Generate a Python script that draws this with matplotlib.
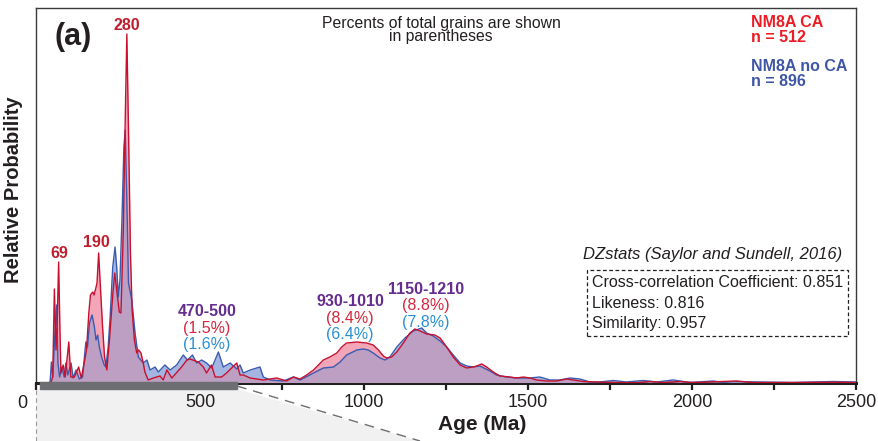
"""Detrital zircon age spectra: NM8A with and without chemical abrasion (panel a)."""

import matplotlib
matplotlib.use("Agg")
import matplotlib.pyplot as plt
import numpy as np
from matplotlib.lines import Line2D
from matplotlib.patches import Polygon, Rectangle
from matplotlib.transforms import Affine2D

plt.rcParams["font.family"] = ["Liberation Sans", "DejaVu Sans"]

W, H = 879, 441

# NM8A CA (red), relative probability in arbitrary units
red_age = [40, 46, 51, 56, 61, 64, 69, 73, 76, 83, 89, 100, 106, 117, 130, 138,
           147, 154, 161, 166, 173, 177, 181, 186, 191, 198, 203, 209, 216, 224,
           234, 240, 246, 254, 259, 266, 272, 277, 282, 288, 293, 300, 307, 313,
           320, 327, 332, 342, 358, 378, 388, 399, 414, 444, 460, 469, 495, 510,
           520, 535, 546, 566, 581, 612, 622, 632, 653, 693, 734, 764, 785, 805,
           825, 846, 861, 876, 896, 917, 932, 947, 978, 1008, 1028, 1044, 1059,
           1069, 1084, 1100, 1120, 1140, 1155, 1171, 1191, 1216, 1232, 1252,
           1272, 1293, 1313, 1333, 1343, 1359, 1374, 1394, 1414, 1445, 1465,
           1486, 1506, 1526, 1557, 1587, 1618, 1638, 1668, 1709, 1770, 1831,
           1872, 1912, 1963, 2004, 2136, 2186, 2308, 2430, 2500]
red_val = [0, 1, 6, 94, 33, 53, 121, 53, 10, 18, 6, 41, 6, 6, 16, 5,
           20, 33, 70, 88, 91, 88, 93, 100, 130, 86, 56, 26, 13, 43,
           88, 110, 93, 71, 70, 150, 263, 349, 253, 130, 73, 43, 30, 33,
           30, 20, 11, 3, 5, 7, 3, 13, 5, 16, 23, 24, 21, 16,
           10, 18, 6, 6, 10, 20, 8, 8, 5, 3, 5, 2, 6, 4,
           8, 13, 18, 23, 26, 30, 36, 40, 41, 40, 38, 33, 27,
           25, 26, 31, 40, 50, 54, 52, 49, 48, 45, 36,
           26, 18, 15, 16, 17, 19, 16, 11, 7, 6, 5,
           6, 5, 3, 2, 2, 4, 3, 1.5, 1, 0.5, 0.3,
           1.5, 0.5, 1.5, 0.5, 2, 0.5, 0.5, 0.8, 0.5]

# NM8A no CA (blue)
blue_age = [38, 43, 47, 51, 57, 63, 67, 72, 79, 86, 91, 97, 107, 113, 122, 132,
            142, 152, 157, 163, 171, 178, 183, 188, 193, 200, 208, 213, 220, 226,
            234, 241, 246, 251, 256, 262, 268, 272, 277, 282, 292, 302, 312, 327,
            338, 348, 363, 373, 393, 409, 429, 449, 462, 477, 490, 505, 520, 536,
            556, 571, 592, 612, 622, 632, 653, 683, 693, 714, 754, 785, 805, 846,
            876, 907, 927, 947, 978, 998, 1013, 1028, 1049, 1064, 1079, 1100,
            1125, 1150, 1176, 1191, 1211, 1232, 1252, 1272, 1293, 1313, 1333,
            1353, 1384, 1404, 1435, 1465, 1506, 1536, 1567, 1597, 1628, 1658,
            1689, 1719, 1760, 1800, 1851, 1892, 1943, 1993, 2065, 2095, 2126,
            2207, 2308, 2430, 2500]
blue_val = [0, 1, 21, 6, 46, 78, 20, 6, 16, 6, 20, 8, 20, 5, 13, 4,
            6, 41, 36, 60, 68, 56, 43, 48, 36, 26, 18, 16, 36, 66,
            116, 136, 116, 86, 103, 163, 236, 253, 183, 100, 83, 50, 26, 20,
            23, 13, 16, 11, 18, 13, 18, 28, 23, 28, 20, 23, 20, 15,
            31, 16, 20, 14, 18, 10, 13, 16, 6, 3, 2, 6, 3, 10,
            15, 16, 21, 28, 33, 34, 33, 30, 25, 23, 26, 36,
            45, 52, 55, 50, 47, 42, 36, 28, 20, 17, 16,
            17, 12, 8, 6, 5, 5, 6, 3, 3, 5, 4,
            1, 1, 2.5, 1, 2.5, 1, 3, 0.5, 2, 0.5, 1.5,
            1, 0.5, 1.5, 1]

xtick_vals = np.arange(0, 2501, 250)
xtick_labels = ["" if (v == 0 or v % 500) else str(v) for v in xtick_vals]
zoom_range = (12, 613)

RED_LINE = "#c8102e"
BLUE_LINE = "#3a5bb0"
RED_FILL = "#f4a6b9"
BLUE_FILL = "#a3b5e0"
OVERLAP = "#bd9fc3"
DARK = "#231f20"


def px(x, y):
    return x / W, 1 - y / H


fig = plt.figure(figsize=(W / 100, H / 100), dpi=100)
ax = fig.add_axes([36 / W, 58 / H, 820 / W, 375 / H])

blue_fill = ax.fill_between(blue_age, blue_val, color=BLUE_FILL, lw=0, zorder=1)
ax.fill_between(red_age, red_val, color=RED_FILL, lw=0, zorder=2)
overlap = ax.fill_between(red_age, red_val, color=OVERLAP, lw=0, zorder=3)
overlap.set_clip_path(blue_fill.get_paths()[0], ax.transData)
ax.plot(blue_age, blue_val, color=BLUE_LINE, lw=1.0, zorder=4)
ax.plot(red_age, red_val, color=RED_LINE, lw=1.0, zorder=5)

ax.set_xlim(0, 2500)
ax.set_ylim(0, 375)
ax.set_yticks([])
ax.set_xticks(xtick_vals)
ax.set_xticklabels(xtick_labels)
ax.tick_params(axis="x", direction="out", length=5, width=1.6, color=DARK,
               pad=3, labelsize=13, labelcolor=DARK)
for side in ["top", "left", "right"]:
    ax.spines[side].set_linewidth(1.0)
    ax.spines[side].set_color("#3a3a3a")
ax.spines["bottom"].set_linewidth(2.2)
ax.spines["bottom"].set_color(DARK)

# grey bar marking the zoomed interval, plus the zoom wedge below the axis
ax.add_patch(Rectangle((zoom_range[0], -6 / 375), zoom_range[1] - zoom_range[0],
                       7.5 / 375, transform=ax.get_xaxis_transform(),
                       color="#6d6e71", clip_on=False, zorder=6))
pix = Affine2D().scale(1 / W, -1 / H).translate(0, 1) + fig.transFigure
fig.patches.append(Polygon([[36, 389], [237, 389], [420, 441], [36, 441]],
                           closed=True, transform=pix, facecolor="#f1f1f2",
                           edgecolor="none", zorder=-1))
fig.lines.append(Line2D([237, 420], [386, 441], transform=pix, color="#6d6e71",
                        lw=1.0, ls=(0, (7, 5))))
fig.lines.append(Line2D([36, 36], [390, 441], transform=pix, color="#9a9a9a",
                        lw=0.8, ls=(0, (4, 3))))

fig.text(*px(22, 404), "0", fontsize=13, color=DARK, ha="center", va="center")
fig.text(*px(482, 425), "Age (Ma)", fontsize=15, fontweight="bold",
         color=DARK, ha="center", va="center")
fig.text(*px(14, 190), "Relative Probability", fontsize=14.5,
         fontweight="bold", color=DARK, rotation=90, ha="center", va="center")

fig.text(*px(73, 37), "(a)", fontsize=22, fontweight="bold", color=DARK,
         ha="center", va="center")
fig.text(*px(441, 30), "Percents of total grains are shown\nin parentheses",
         fontsize=11.3, color=DARK, ha="center", va="center", linespacing=0.9)

fig.text(*px(751, 30), "NM8A CA\nn = 512", fontsize=11.5, fontweight="bold",
         color="#ed1c24", ha="left", va="center", linespacing=0.95)
fig.text(*px(751, 74), "NM8A no CA\nn = 896", fontsize=11.5, fontweight="bold",
         color="#3f56a6", ha="left", va="center", linespacing=0.95)

# peak ages
PEAK = "#be1e2d"
fig.text(*px(127, 25), "280", fontsize=11.5, fontweight="bold", color=PEAK,
         ha="center", va="center")
fig.text(*px(59, 253), "69", fontsize=11.5, fontweight="bold", color=PEAK,
         ha="center", va="center")
fig.text(*px(96, 243), "190", fontsize=11.5, fontweight="bold", color=PEAK,
         ha="center", va="center")

# age groups with percentages
PURPLE = "#662d91"
RED_PCT = "#d7263d"
BLUE_PCT = "#2a8fd4"
groups = [("470-500", "(1.5%)", "(1.6%)", 207, 312),
          ("930-1010", "(8.4%)", "(6.4%)", 350, 302),
          ("1150-1210", "(8.8%)", "(7.8%)", 426, 289)]
for name, pct_ca, pct_noca, gx, gy in groups:
    fig.text(*px(gx, gy), name, fontsize=11.5, fontweight="bold",
             color=PURPLE, ha="center", va="center")
    fig.text(*px(gx, gy + 16.5), pct_ca, fontsize=11.5, color=RED_PCT,
             ha="center", va="center")
    fig.text(*px(gx, gy + 33), pct_noca, fontsize=11.5, color=BLUE_PCT,
             ha="center", va="center")

fig.text(*px(583, 255), "DZstats (Saylor and Sundell, 2016)", fontsize=12,
         fontstyle="italic", color=DARK, ha="left", va="center")
fig.text(*px(592, 303),
         "Cross-correlation Coefficient: 0.851\nLikeness: 0.816\nSimilarity: 0.957",
         fontsize=11.5, color=DARK, ha="left", va="center", linespacing=1.42,
         bbox=dict(boxstyle="square,pad=0.32", facecolor="white",
                   edgecolor=DARK, linestyle=(0, (3, 2)), linewidth=0.9))

fig.savefig("out.png", dpi=100)
plt.close(fig)
